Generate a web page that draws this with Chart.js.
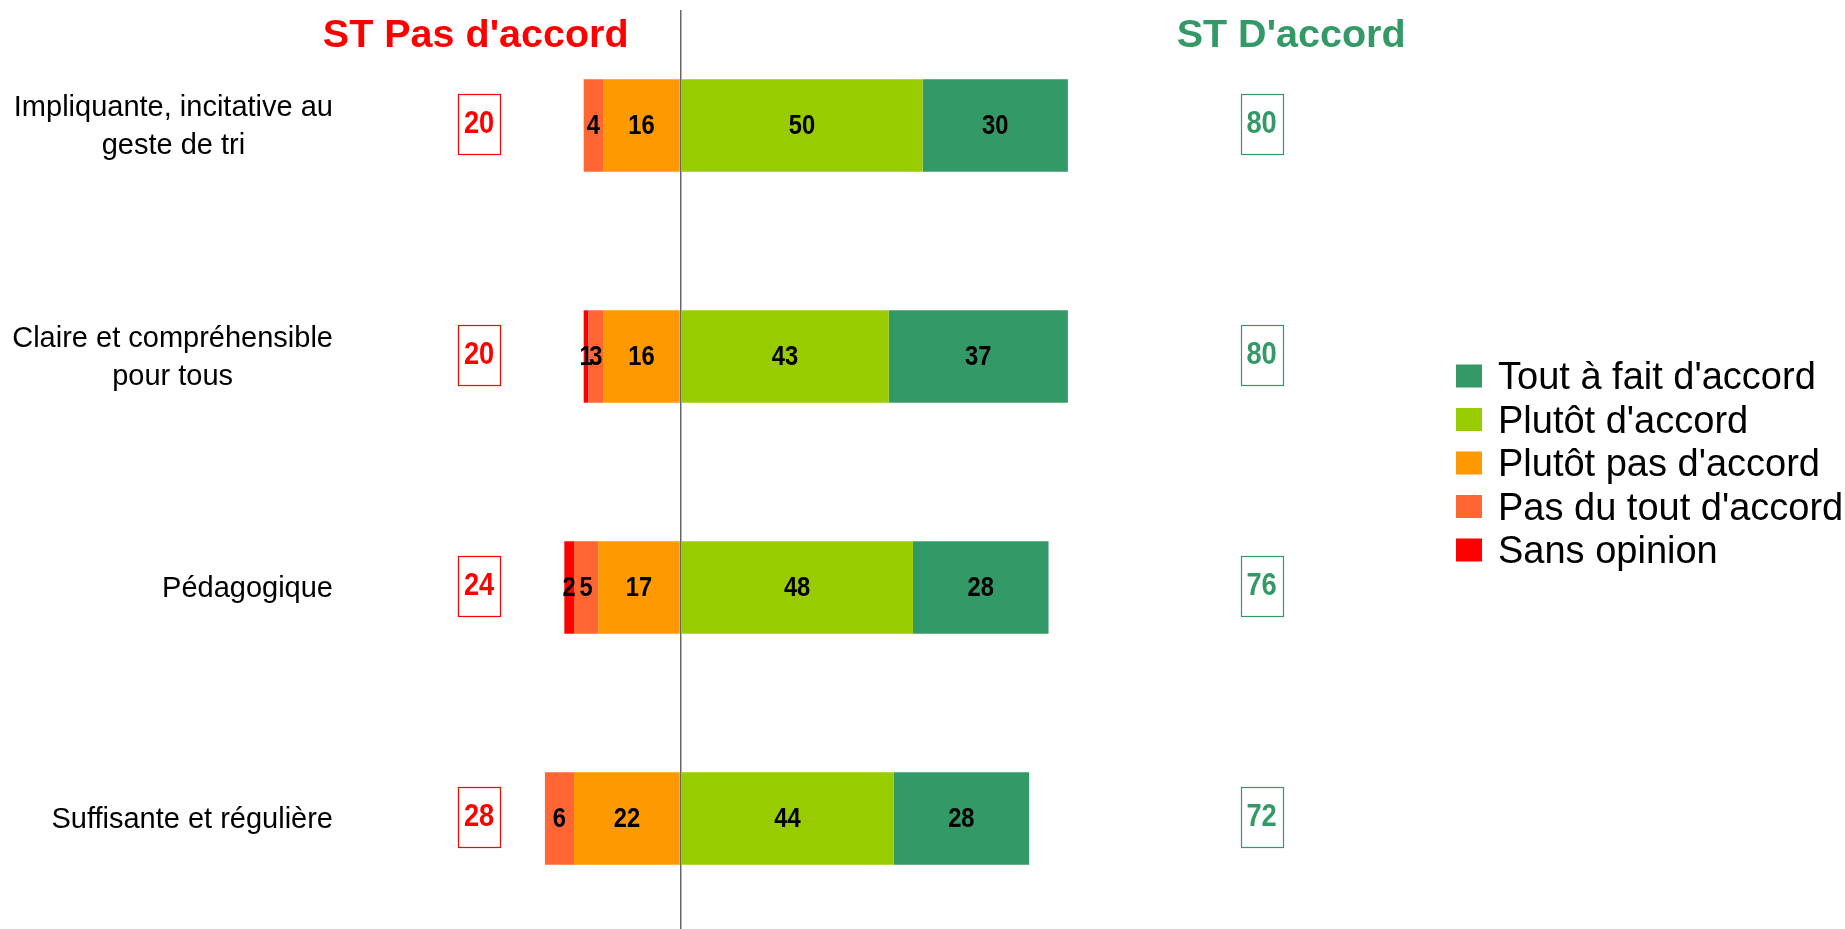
<!DOCTYPE html>
<html>
<head>
<meta charset="utf-8">
<script src="https://cdn.jsdelivr.net/npm/chart.js@4.4.1/dist/chart.umd.min.js"></script>
<style>
  html, body { margin: 0; padding: 0; background: #fff; overflow: hidden; }
</style>
</head>
<body>
<canvas id="chart" width="1845" height="934"></canvas>
<script>
// categories (multi-line labels)
var categories = [
  ["Impliquante, incitative au", "geste de tri"],
  ["Claire et compréhensible", "pour tous"],
  ["Pédagogique"],
  ["Suffisante et régulière"]
];

// series values (%)
var toutAFait   = [30, 37, 28, 28];
var plutot      = [50, 43, 48, 44];
var plutotPas   = [16, 16, 17, 22];
var pasDuTout   = [4, 3, 5, 6];
var sansOpinion = [0, 1, 2, 0];

// sous-totaux
var stPasDaccord = [20, 20, 24, 28];
var stDaccord    = [80, 80, 76, 72];

var titleLeft = "ST Pas d'accord";
var titleRight = "ST D'accord";
var legendOrder = ["Tout à fait d'accord", "Plutôt d'accord", "Plutôt pas d'accord", "Pas du tout d'accord", "Sans opinion"];

var RED = '#FF0000', CORAL = '#FF6633', ORANGE = '#FF9900', LIME = '#99CC00', GREEN = '#339966';
var FONT = '"Liberation Sans", Arial, sans-serif';

function neg(arr) { return arr.map(function (v) { return -v; }); }

// narrow-looking bold numbers (no Arial Narrow here, so squeeze horizontally)
function narrowText(ctx, txt, x, y, size) {
  ctx.save();
  ctx.translate(x, y);
  ctx.scale(0.88, 1);
  ctx.font = 'bold ' + size + 'px ' + FONT;
  ctx.textAlign = 'center';
  ctx.textBaseline = 'middle';
  ctx.fillText(txt, 0, 0);
  ctx.restore();
}

var data = {
  labels: categories,
  datasets: [
    // left side (negative), first one sits next to zero
    { label: "Plutôt pas d'accord", data: neg(plutotPas), backgroundColor: ORANGE },
    { label: "Pas du tout d'accord", data: neg(pasDuTout), backgroundColor: CORAL },
    { label: "Sans opinion", data: neg(sansOpinion), backgroundColor: RED },
    // right side
    { label: "Plutôt d'accord", data: plutot, backgroundColor: LIME },
    { label: "Tout à fait d'accord", data: toutAFait, backgroundColor: GREEN }
  ]
};

// values inside the bars
var barLabels = {
  id: 'barLabels',
  afterDatasetsDraw: function (chart) {
    var ctx = chart.ctx;
    ctx.save();
    ctx.fillStyle = '#000';
    chart.data.datasets.forEach(function (ds, i) {
      var meta = chart.getDatasetMeta(i);
      meta.data.forEach(function (el, j) {
        var v = ds.data[j];
        if (!v) return;
        narrowText(ctx, String(Math.abs(v)), (el.x + el.base) / 2, el.y + 1, 27);
      });
    });
    ctx.restore();
  }
};

// category labels, titles, ST boxes and legend
var sideLabels = {
  id: 'sideLabels',
  afterDraw: function (chart) {
    var ctx = chart.ctx;
    var xs = chart.scales.x;
    var ys = chart.scales.y;
    ctx.save();

    // titles
    ctx.font = 'bold 39.5px ' + FONT;
    ctx.textAlign = 'center';
    ctx.textBaseline = 'alphabetic';
    ctx.fillStyle = RED;
    ctx.fillText(titleLeft, xs.getPixelForValue(-42.3), 47);
    ctx.fillStyle = GREEN;
    ctx.fillText(titleRight, xs.getPixelForValue(126.1), 47);

    // category labels : lines centred together, block right aligned
    ctx.font = '29px ' + FONT;
    ctx.fillStyle = '#000';
    ctx.textBaseline = 'middle';
    var rightEdge = 333, lh = 38;
    categories.forEach(function (lines, i) {
      var cy = ys.getPixelForValue(i);
      var w = 0;
      lines.forEach(function (l) { w = Math.max(w, ctx.measureText(l).width); });
      var cx = rightEdge - w / 2;
      lines.forEach(function (l, k) {
        ctx.fillText(l, cx, cy + (k - (lines.length - 1) / 2) * lh + 1);
      });
    });

    // ST boxes
    var bw = 42, bh = 60;
    function box(val, at, color, cy) {
      var cx = xs.getPixelForValue(at);
      ctx.strokeStyle = color;
      ctx.lineWidth = 1.2;
      ctx.strokeRect(Math.round(cx - bw / 2) + 0.5, Math.round(cy - bh / 2) + 0.5, bw, bh);
      ctx.fillStyle = color;
      narrowText(ctx, String(val), cx, cy + 1, 31);
    }
    for (var i = 0; i < categories.length; i++) {
      var cy = ys.getPixelForValue(i) - 2;
      box(stPasDaccord[i], -41.6, RED, cy);
      box(stDaccord[i], 120, GREEN, cy);
    }

    // legend
    ctx.font = '38px ' + FONT;
    ctx.textAlign = 'left';
    ctx.textBaseline = 'middle';
    legendOrder.forEach(function (name, k) {
      var ds = chart.data.datasets.filter(function (d) { return d.label === name; })[0];
      var y = 376 + k * 43.5;
      ctx.fillStyle = ds.backgroundColor;
      ctx.fillRect(1456, y - 11.5, 26, 23);
      ctx.fillStyle = '#000';
      ctx.fillText(name, 1498, y + 3);
    });

    ctx.restore();
  }
};

var chart = new Chart(document.getElementById('chart'), {
  type: 'bar',
  data: data,
  plugins: [barLabels, sideLabels],
  options: {
    indexAxis: 'y',
    responsive: false,
    animation: false,
    layout: { padding: { top: 10, right: 397, bottom: 0, left: 0 } },
    datasets: {
      bar: { categoryPercentage: 1, barPercentage: 0.4, borderWidth: 0 }
    },
    plugins: {
      legend: { display: false },
      tooltip: { enabled: false }
    },
    scales: {
      x: {
        stacked: true,
        min: -60,
        max: 158.5,
        ticks: { display: false, stepSize: 20 },
        border: { display: false },
        grid: {
          drawTicks: false,
          lineWidth: 1.5,
          color: function (c) { return c.tick && c.tick.value === 0 ? '#666666' : 'rgba(0,0,0,0)'; }
        }
      },
      y: {
        stacked: true,
        ticks: { display: false },
        border: { display: false },
        grid: { display: false, drawTicks: false },
        afterFit: function (scale) { scale.width = 390; }
      }
    }
  }
});
</script>
</body>
</html>
